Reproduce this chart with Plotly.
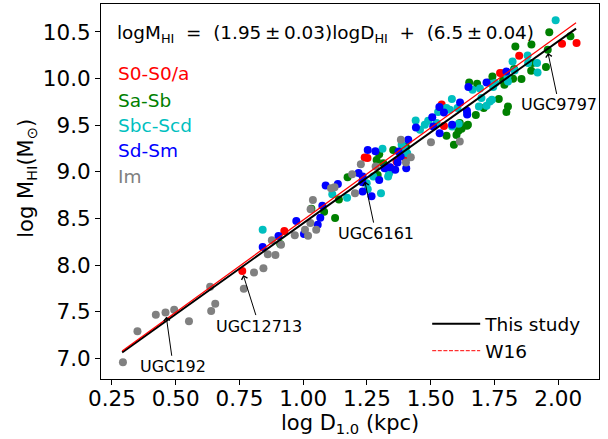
import plotly.graph_objects as go

# ---------------- data ----------------
s0_x = [0.761, 0.926, 1.241, 1.252, 1.341, 1.366, 1.403, 1.543, 1.552, 1.772, 1.781, 1.847, 2.015, 2.072]
s0_y = [7.937, 8.367, 9.154, 9.150, 9.046, 9.111, 9.140, 9.723, 9.491, 10.060, 10.058, 10.246, 10.374, 10.382]

sa_x = [0.910, 1.032, 1.082, 1.125, 1.140, 1.174, 1.288, 1.292, 1.298, 1.314, 1.353, 1.403,
        1.562, 1.591, 1.601, 1.609, 1.614, 1.621, 1.642, 1.646, 1.651, 1.677, 1.682, 1.708,
        1.729, 1.742, 1.767, 1.784, 1.789, 1.797, 1.803, 1.823, 1.827, 1.832, 1.856, 1.894,
        1.895, 1.899, 1.952, 1.959, 1.965, 2.048]
sa_y = [8.227, 8.606, 8.574, 8.506, 8.703, 8.943, 9.129, 8.968, 9.190, 9.094, 9.236, 9.268,
        9.387, 9.290, 9.397, 9.440, 9.523, 9.462, 9.494, 9.505, 9.959, 9.609, 9.945, 9.684,
        9.959, 10.023, 9.781, 9.980, 9.934, 9.641, 9.701, 9.999, 10.103, 10.345, 9.995, 10.085,
        10.367, 10.167, 10.124, 10.310, 10.496, 10.453]

sbc_x = [0.841, 1.114, 1.172, 1.249, 1.253, 1.275, 1.305, 1.311, 1.333, 1.337, 1.386, 1.395,
         1.408, 1.441, 1.458, 1.477, 1.490, 1.523, 1.529, 1.562, 1.575, 1.583, 1.584, 1.605,
         1.610, 1.643, 1.664, 1.689, 1.693, 1.699, 1.719, 1.732, 1.740, 1.741, 1.745, 1.753,
         1.801, 1.803, 1.821, 1.829, 1.880, 1.882, 1.917, 1.919, 1.990]
sbc_y = [8.381, 8.761, 8.724, 8.879, 8.814, 8.950, 8.771, 9.247, 8.950, 8.986, 9.290, 9.258,
         9.201, 9.551, 9.451, 9.505, 9.548, 9.523, 9.641, 9.684, 9.666, 9.781, 9.487, 9.684,
         9.515, 9.620, 9.881, 9.701, 9.895, 9.791, 9.709, 9.755, 9.773, 9.945, 9.910, 9.952,
         10.023, 9.970, 10.184, 10.088, 10.249, 10.167, 10.167, 10.066, 10.625]

sd_x = [0.841, 0.903, 0.973, 1.003, 1.057, 1.067, 1.075, 1.088, 1.136, 1.217, 1.232, 1.233,
        1.233, 1.253, 1.268, 1.283, 1.298, 1.319, 1.340, 1.361, 1.370, 1.374, 1.382, 1.404,
        1.412, 1.442, 1.506, 1.510, 1.534, 1.535, 1.552, 1.584, 1.615, 1.642, 1.643, 1.648,
        1.719, 1.797]
sd_y = [8.195, 8.313, 8.474, 8.334, 8.434, 8.509, 8.638, 8.853, 8.871, 8.989, 8.890, 8.789,
        8.950, 9.236, 8.739, 9.222, 8.914, 9.040, 9.050, 9.022, 9.100, 9.218, 9.165, 9.040,
        9.344, 9.476, 9.587, 9.487, 9.695, 9.415, 9.637, 9.505, 9.744, 9.655, 9.615, 9.910,
        9.959, 10.077]

im_x = [0.293, 0.350, 0.422, 0.460, 0.494, 0.552, 0.635, 0.639, 0.655, 0.767, 0.807, 0.844,
        0.861, 0.891, 0.877, 0.913, 0.967, 1.007, 1.019, 1.028, 1.029, 1.038, 1.051, 1.109,
        1.123, 1.192, 1.203, 1.226, 1.284, 1.383, 1.403, 1.422, 1.501, 1.614]
im_y = [6.960, 7.293, 7.468, 7.494, 7.522, 7.400, 7.769, 7.508, 7.586, 7.747, 7.923, 7.966,
        8.116, 8.109, 8.267, 8.220, 8.320, 8.381, 8.316, 8.452, 8.600, 8.699, 8.381, 8.825,
        8.836, 8.975, 8.771, 9.083, 9.057, 9.344, 9.100, 9.158, 9.319, 9.325]

# fits
line_x = [0.29, 2.07]
fit_slope, fit_intercept = 1.95, 6.5          # this study
w16_slope, w16_intercept = 1.976, 6.508       # W16

# labelled galaxies
gal_names = ["UGC9797", "UGC6161", "UGC12713", "UGC192"]
gal_x = [1.960, 1.242, 0.765, 0.463]
gal_y = [10.275, 8.896, 7.894, 7.447]

x_ticks = [0.25, 0.50, 0.75, 1.00, 1.25, 1.50, 1.75, 2.00]
y_ticks = [7.0, 7.5, 8.0, 8.5, 9.0, 9.5, 10.0, 10.5]

groups = [
    ("S0-S0/a", s0_x, s0_y, "#ff0000"),
    ("Sa-Sb", sa_x, sa_y, "#008000"),
    ("Sbc-Scd", sbc_x, sbc_y, "#00bfbf"),
    ("Sd-Sm", sd_x, sd_y, "#0000ff"),
    ("Im", im_x, im_y, "#808080"),
]

FONT = "DejaVu Sans"
fig = go.Figure()

for name, xs, ys, col in groups:
    fig.add_trace(go.Scatter(x=xs, y=ys, mode="markers", name=name, showlegend=False,
                             marker=dict(size=8, color=col, line=dict(width=0))))

fig.add_trace(go.Scatter(x=line_x, y=[fit_slope * v + fit_intercept for v in line_x],
                         mode="lines", name="This study",
                         line=dict(color="black", width=2)))
fig.add_trace(go.Scatter(x=line_x, y=[w16_slope * v + w16_intercept for v in line_x],
                         mode="lines", name="W16", showlegend=False,
                         line=dict(color="#ff0000", width=1.2)))
fig.add_trace(go.Scatter(x=[None], y=[None], mode="lines", name="W16",
                         line=dict(color="#ff0000", width=1, dash="4px,1.6px")))

# plot area in px: x 101..599, y 4..379
fig.update_layout(
    width=608, height=439,
    margin=dict(l=101, r=9, t=4, b=60),
    paper_bgcolor="white", plot_bgcolor="white",
    font=dict(family=FONT, color="black"),
    showlegend=True,
    legend=dict(x=0.655, y=0.197, xanchor="left", yanchor="top", itemwidth=48,
                bgcolor="rgba(0,0,0,0)", font=dict(size=18.5, family=FONT),
                tracegroupgap=0),
)
fig.update_xaxes(range=[0.207, 2.16], tickvals=x_ticks, tickformat=".2f",
                 ticks="outside", ticklen=5, tickwidth=1, tickcolor="black",
                 ticklabelstandoff=-5,
                 showline=True, mirror=True, linecolor="black", linewidth=1,
                 showgrid=False, zeroline=False, tickfont=dict(size=21.5, family=FONT))
fig.update_yaxes(range=[6.78, 10.80], tickvals=y_ticks, tickformat=".1f",
                 ticks="outside", ticklen=5, tickwidth=1, tickcolor="black",
                 showline=True, mirror=True, linecolor="black", linewidth=1,
                 showgrid=False, zeroline=False, tickfont=dict(size=21.5, family=FONT))

ann = []
ann.append(dict(xref="paper", yref="paper", x=0.5, y=-0.119, xanchor="center", yanchor="middle",
                text="log D<sub>1.0</sub> (kpc)", showarrow=False, font=dict(size=21, family=FONT)))
ann.append(dict(xref="paper", yref="paper", x=-0.149, y=0.536, xanchor="center", yanchor="middle",
                text="log M<sub>HI</sub>(M<sub>⊙</sub>)", textangle=-90, showarrow=False,
                font=dict(size=21, family=FONT)))
nb = "\u00a0"
th = "\u2009"
eq = ("logM<sub>HI</sub>" + nb * 2 + "=" + nb * 2 + "(1.95" + th + "±" + th + "0.03)logD<sub>HI</sub>"
      + nb * 2 + "+" + nb * 2 + "(6.5" + th + "±" + th + "0.04)")
ann.append(dict(xref="paper", yref="paper", x=0.028, y=0.92, xanchor="left", yanchor="middle",
                text=eq, showarrow=False, font=dict(size=18.4, family=FONT)))
cat_y = [0.815, 0.744, 0.676, 0.609, 0.539]
for (name, xs, ys, col), yy in zip(groups, cat_y):
    ann.append(dict(xref="paper", yref="paper", x=0.03, y=yy, xanchor="left", yanchor="middle",
                    text=name, showarrow=False, font=dict(size=18.5, color=col, family=FONT)))
offsets = [(11, 52), (11, 52), (16, 51), (7, 50)]
for nm, gx, gy, (ox, oy) in zip(gal_names, gal_x, gal_y, offsets):
    ann.append(dict(x=gx, y=gy, xref="x", yref="y", text=nm, showarrow=True,
                    ax=ox, ay=oy, arrowhead=4, arrowsize=1.2, arrowwidth=1, arrowcolor="black",
                    font=dict(size=16, family=FONT, color="black")))
fig.update_layout(annotations=ann)

fig.write_html("out.html", config={"displayModeBar": False},
               post_script="document.body.style.margin='0';")
